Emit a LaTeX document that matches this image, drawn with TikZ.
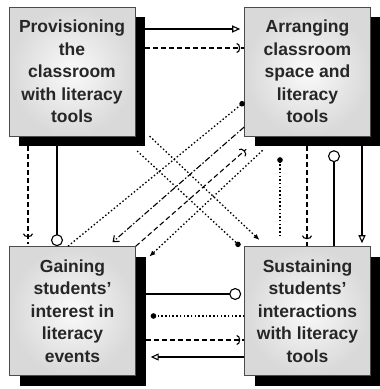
\documentclass[tikz,border=0pt]{standalone}
\usepackage{fontspec}
\setmainfont{Liberation Sans}
\usetikzlibrary{arrows.meta,calc,decorations.markings}
\begin{document}
\begin{tikzpicture}[x=1pt,y=-1pt,
  face/.style={draw=black!70, line width=0.6pt, inner color=gray!4, outer color=gray!30,
    minimum width=126pt, minimum height=129pt, inner sep=0pt, align=center,
    font=\bfseries\fontsize{17.5}{22.5}\selectfont, text=black!85},
  shadowbox/.style={fill=black, minimum width=126pt, minimum height=129pt, inner sep=0pt},
  conn/.style={line width=1.1pt, black},
  dsh/.style={conn, dash pattern=on 5pt off 3pt},
  dtt/.style={conn, line width=1.3pt, dash pattern=on 1.5pt off 2.2pt},
  ddot/.style={conn, dash pattern=on 6pt off 2pt on 1.5pt off 2pt},
  teeend/.style={postaction={decorate, decoration={markings,
     mark=at position #1 with {\arrow{Arc Barb[length=3.5pt,width=10pt,line width=1.1pt]}}}}},
  opentri/.style={-{Triangle[open,length=8pt,width=7pt,line width=1.1pt]}},
  opencirc/.style={-{Circle[open,length=12pt,line width=1.1pt]}},
  dotend/.style={-{Circle[length=5.5pt]}},
  smallhead/.style={-{Latex[length=6pt,width=5pt]}},
  barbhead/.style={-{Straight Barb[length=5pt,width=8pt,line width=1.1pt]}}
]
\useasboundingbox (0,0) rectangle (380,389);
\fill[white] (0,0) rectangle (380,389);

% shadows
\node[shadowbox] (TLs) at (82,81.5) {};
\node[shadowbox] (TRs) at (317.5,81.5) {};
\node[shadowbox] (BLs) at (82.5,321) {};
\node[shadowbox] (BRs) at (317.5,321) {};
% boxes
\node[face] (TL) at (72,71.5) {Provisioning\\the\\classroom\\with literacy\\tools};
\node[face] (TR) at (307.5,71.5) {Arranging\\classroom\\space and\\literacy\\tools};
\node[face] (BL) at (72.5,311) {Gaining\\students'\\interest in\\literacy\\events};
\node[face] (BR) at (307.5,311) {Sustaining\\students'\\interactions\\with literacy\\tools};

% top horizontals
\draw[conn, opentri, shorten >=4pt] (TLs.east |- 0,29) -- (TR.west |- 0,29);
\draw[dsh, teeend=-4pt] (TLs.east |- 0,48) -- (TR.west |- 0,48);

% left verticals
\draw[dsh, teeend=-9pt, shorten >=2pt] (TLs.south -| 28,0) -- (BL.north -| 28,0);
\draw[conn, opencirc] (TLs.south -| 57,0) -- (BL.north -| 57,0);

% right verticals
\draw[dtt, dotend, shorten <=10pt, shorten >=11pt] (BR.north -| 280,0) -- (TRs.south -| 280,0);
\draw[dsh, teeend=-7pt] (TRs.south -| 307,0) -- (BR.north -| 307,0);
\draw[conn, opencirc, shorten >=4pt] (BR.north -| 334,0) -- (TRs.south -| 334,0);
\draw[conn, opentri, shorten >=3pt] (TRs.south -| 362,0) -- (BR.north -| 362,0);

% bottom horizontals
\draw[conn, opencirc, shorten >=3pt] (BLs.east |- 0,294) -- (BR.west |- 0,294);
\draw[dtt, dotend, shorten >=5pt] (BR.west |- 0,316) -- (BLs.east |- 0,316);
\draw[dsh, teeend=-4pt] (BLs.east |- 0,340) -- (BR.west |- 0,340);
\draw[conn, opentri, shorten >=5pt] (BR.west |- 0,357) -- (BLs.east |- 0,357);

% diagonals
\draw[dtt, dotend] (BL.north -| 68,0) -- (TR.west |- 0,102);
\draw[ddot, barbhead, shorten >=6pt] (TR.west |- 0,127) -- (BL.north -| 108,0);
\draw[dsh, teeend=-2pt] (BL.north east) -- ($(TR.south west)+(2,13)$);
\draw[dtt, smallhead, shorten <=6pt, shorten >=5pt] (TRs.south -| 267,0) -- (BLs.east |- 0,260);
\draw[dtt, dotend, shorten <=7pt] (TLs.south -| 132,0) -- (BR.north -| 240,0);
\draw[dtt, smallhead, shorten <=6pt, shorten >=9pt] (TLs.east |- 0,132) -- (BR.north -| 266,0);
\end{tikzpicture}
\end{document}
